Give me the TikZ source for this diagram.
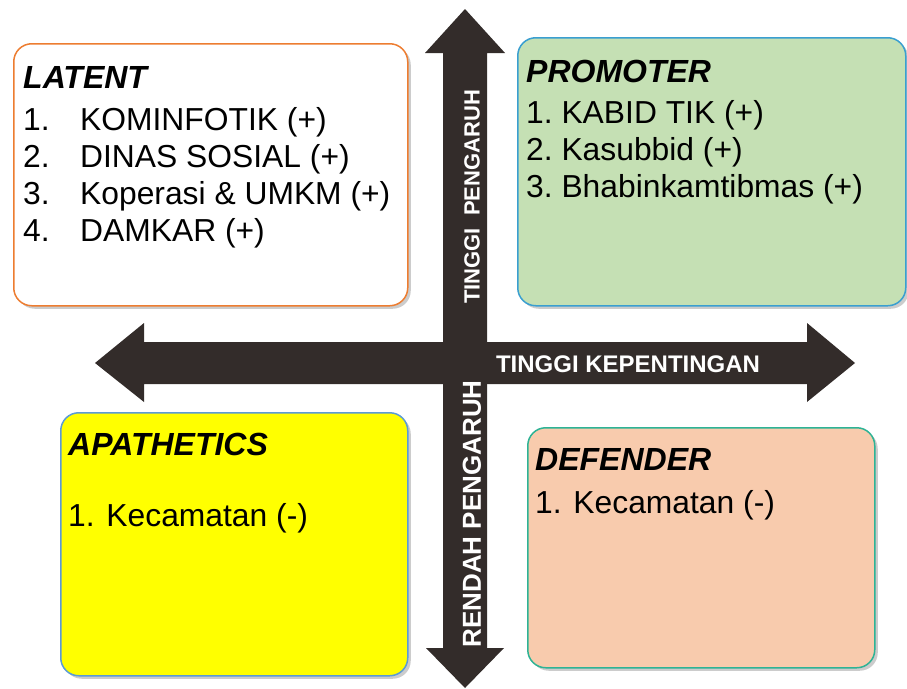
\documentclass[tikz,border=0pt]{standalone}
\usepackage{fontspec}
\setmainfont{Liberation Sans}
\usetikzlibrary{shadows}
\definecolor{arrowdark}{HTML}{332C2A}
\definecolor{latentline}{HTML}{ED7D31}
\definecolor{promofill}{HTML}{C5E0B4}
\definecolor{promoline}{HTML}{3A9FD0}
\definecolor{apafill}{HTML}{FFFF00}
\definecolor{apaline}{HTML}{5B9BD5}
\definecolor{deffill}{HTML}{F8CBAD}
\definecolor{defline}{HTML}{2EB395}
\tikzset{
  quad/.style = {rectangle, rounded corners=18pt, line width=1.5pt,
    anchor=north west, inner sep=0pt,
    drop shadow={shadow xshift=3pt, shadow yshift=-3pt, fill=black!40, opacity=.5}},% kotak kuadran
  title/.style = {anchor=base west, inner sep=0pt,
    font=\fontsize{32}{38}\selectfont\bfseries\itshape},% judul kuadran
  item/.style = {anchor=base west, inner sep=0pt,
    font=\fontsize{31.8}{37}\selectfont},% isi kuadran
  axis/.style = {inner sep=0pt, text=white}% label sumbu
}

\begin{document}
\begin{tikzpicture}[x=1pt, y=-1pt]
  \useasboundingbox (0,0) rectangle (907,688);
  % sumbu
  \fill[arrowdark] (443,648) -- (443,53) -- (425,53) -- (465,9) -- (505,53)
    -- (487,53) -- (487,648) -- (504,648) -- (465,688) -- (426,648) -- cycle;
  \fill[arrowdark] (144,342) -- (807,342) -- (807,323) -- (855,363) -- (807,402)
    -- (807,384) -- (144,384) -- (144,402) -- (95,363) -- (144,323) -- cycle;
  \node[axis, rotate=90, font=\fontsize{22}{26}\selectfont\bfseries] (tinggiP)
    at (472,197) {TINGGI\ \ PENGARUH};
  \node[axis, rotate=90, font=\fontsize{26}{30}\selectfont\bfseries] (rendahP)
    at (472,514) {RENDAH PENGARUH};
  \node[axis, font=\fontsize{24}{28}\selectfont\bfseries] (tinggiK)
    at (628,364) {TINGGI KEPENTINGAN};
  % kuadran
  \node[quad, draw=latentline, fill=white, minimum width=394, minimum height=262]
    (latent) at (13,43) {};
  \node[quad, draw=promoline, fill=promofill, minimum width=388, minimum height=268]
    (promoter) at (517,37) {};
  \node[quad, draw=apaline, fill=apafill, minimum width=347, minimum height=263]
    (apathetics) at (60,412) {};
  \node[quad, draw=defline, fill=deffill, minimum width=347, minimum height=240]
    (defender) at (527,427) {};
  % teks
  \node[title] (latentT) at ([shift={(10,45)}]latent.north west) {LATENT};
  \foreach \txt [count=\k] in {KOMINFOTIK (+), DINAS SOSIAL (+),
      Koperasi \& UMKM (+), DAMKAR (+)}
    \node[item] (lat\k) at ([shift={(10,50+37*\k)}]latent.north west)
      {\makebox[57pt][l]{\k.}\txt};
  \node[title] (promoterT) at ([shift={(9,45)}]promoter.north west) {PROMOTER};
  \foreach \txt [count=\k] in {KABID TIK (+), Kasubbid (+), Bhabinkamtibmas (+)}
    \node[item] (pro\k) at ([shift={(9,49+37*\k)}]promoter.north west) {\k.\ \txt};
  \node[title] (apatheticsT) at ([shift={(8,43)}]apathetics.north west) {APATHETICS};
  \node[item] (apa1) at ([shift={(8,114)}]apathetics.north west) {1. Kecamatan (-)};
  \node[title] (defenderT) at ([shift={(8,43)}]defender.north west) {DEFENDER};
  \node[item] (def1) at ([shift={(8,86)}]defender.north west) {1. Kecamatan (-)};
\end{tikzpicture}
\end{document}
